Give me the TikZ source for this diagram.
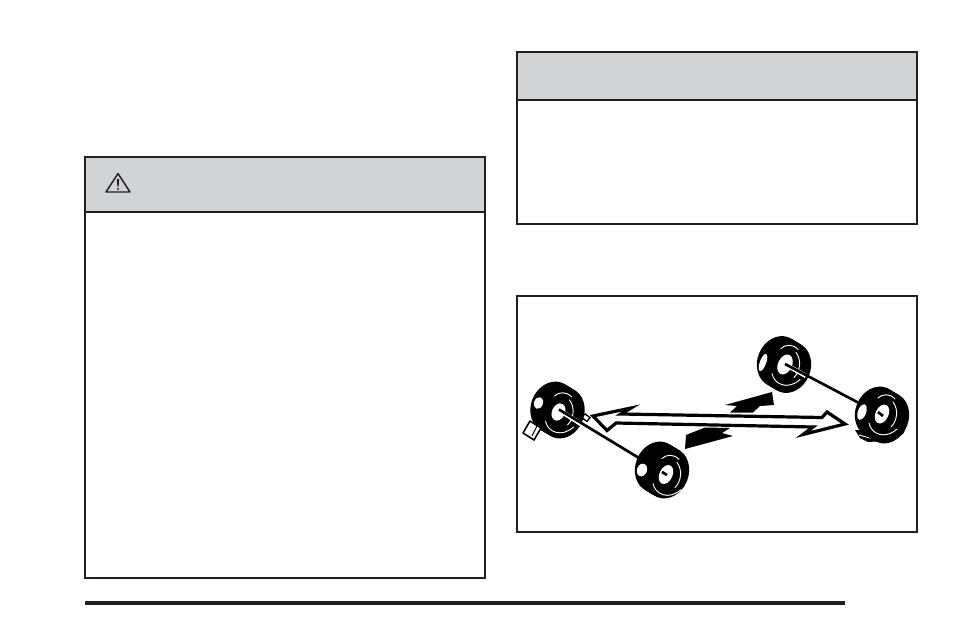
\documentclass[tikz,border=0pt]{standalone}
\definecolor{ink}{HTML}{231F20}
\definecolor{band}{HTML}{D1D3D4}
\tikzset{
  frame/.style={draw=ink,line width=1.5pt},
  headband/.style={fill=band},
  blob/.style={fill=black,draw=none},
  gleam/.style={draw=white,line width=0.7pt,line cap=round},
  hub/.style={fill=white,draw=none},
  axle/.style={draw=black,line width=2pt},
  halo/.style={draw=white,line width=3.4pt},
}
% #1 tyre centre, #2 hub offset, #3 hub rx, #4 hub ry, #5 patch offset, #6 patch rx, #7 patch ry
\newcommand{\tyre}[7]{%
  \begin{scope}[shift={(#1)}]
    \foreach \s in {-5,-3,-1,1,3,5}{
      \fill[blob,rotate around={-22:(\s,0.6*\s)}] (\s,0.6*\s) ellipse [x radius=21.5,y radius=26];
    }
    \fill[white,rotate around={-20:(#5)}] (#5) ellipse [x radius=#6,y radius=#7];
    \fill[hub,rotate around={-25:(#2)}] (#2) ellipse [x radius=#3,y radius=#4];
    \begin{scope}[shift={(#2)}]
      \draw[gleam] (-13,9) .. controls (-11,20) and (3,26) .. (15,15);
      \draw[gleam] (11,-12) .. controls (17,-4) and (15,7) .. (9,13);
      \draw[gleam] (-4,-16) .. controls (0,-20) and (8,-21) .. (13,-15);
    \end{scope}
  \end{scope}}
\begin{document}
\begin{tikzpicture}[x=0.75pt,y=-0.75pt]
\useasboundingbox (0,0) rectangle (954,636);
% left box
\fill[headband] (85,157) rectangle (485,212);
\draw[frame] (85,157) rectangle (485,578);
\draw[frame] (85,212) -- (485,212);
% warning sign
\draw[ink,line width=1.1pt,line join=round] (118,173.5) -- (130,192) -- (106,192) -- cycle;
\fill[ink] (116.8,179) -- (119.2,179) -- (118.6,186.5) -- (117.4,186.5) -- cycle;
\fill[ink] (118,189) circle (1.1);
% right box
\fill[headband] (517,52) rectangle (917,100);
\draw[frame] (517,52) rectangle (917,224);
\draw[frame] (517,100) -- (917,100);
% picture box
\draw[frame] (517,296) rectangle (917,532);
% rule
\draw[ink,line width=2.4pt] (85,603) -- (845,603);
% black arrow, in two parts either side of the white arrow
\fill[blob] (725,405) -- (772,392) -- (774,405) -- (760,406) -- (753,412.5) -- (730,412.5) -- (737,406) -- cycle;
\fill[blob] (686,435) -- (705,427.5) -- (730,428) -- (722,433) -- (733,436) -- (685,449) -- cycle;
% white double arrow
\draw[draw=black,fill=white,line width=2.4pt,line join=miter]
  (593,416) -- (631,408) -- (621,414) -- (822,417.5) -- (827,412) -- (845,424) -- (803,434.5) -- (813,427) -- (616,423) -- (607,430.5) -- cycle;
% tab of the first tyre
\draw[black,fill=white,line width=1pt] (581,417) -- (585,414) -- (590,417.5) -- (587,421.5) -- cycle;
% plate under the fourth tyre
\fill[blob] (855,430) -- (905,430) -- (903,434) -- (885,441) -- (868,442) -- (860,438) -- cycle;
\draw[white,line width=0.7pt] (859,435) -- (872,438.5);
% tyres
\tyre{557.5,410}{1,2}{6.5}{9}{-19,-7}{4.5}{6}
\tyre{662,470}{4,4.5}{6.5}{10}{-20,0}{5}{6.5}
\tyre{784,364.5}{1,0}{7}{10.5}{-21,-2}{3.2}{9}
\tyre{882,415}{0,-1}{6.5}{10}{-20,-3}{4.2}{8}
% tag of the first tyre, in front of its tread
\draw[black,fill=white,line width=1.2pt,line join=round] (523,433) -- (530,421) -- (541,428) -- (534,440) -- cycle;
\draw[black,line width=0.8pt] (532,436) -- (537,426);
% axles
\draw[halo] (562,412) -- (581,424);
\draw[axle] (559,409.5) -- (639,458);
\draw[halo] (790,367) -- (806,376);
\draw[axle] (785,364) -- (859,403);
\draw[axle] (878,412) -- (883,416);
\draw[axle] (662,472) -- (667,475);
\end{tikzpicture}
\end{document}
